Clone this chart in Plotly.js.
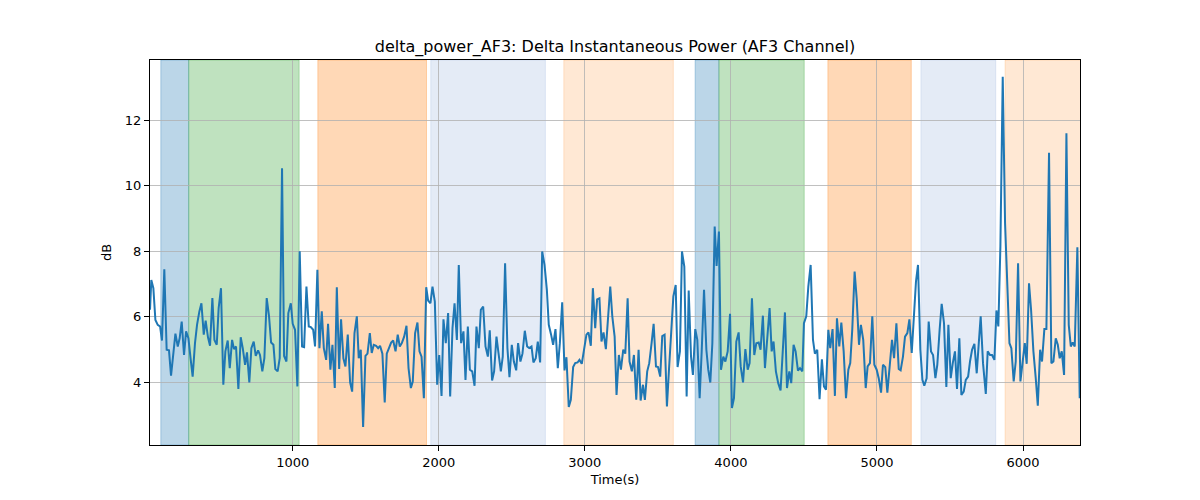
<!DOCTYPE html>
<html>
<head>
<meta charset="utf-8">
<script src="https://cdn.plot.ly/plotly-3.0.1.min.js"></script>
<style>
  html, body { margin: 0; padding: 0; background: #fff; }
  #plot { width: 1200px; height: 500px; }
</style>
</head>
<body>
<div id="plot"></div>
<script>
// time stamps (s) and delta power (dB)
const timeSec = [
  23, 32, 46, 60, 76, 92, 105, 121, 137, 153, 167, 183, 197, 213, 226, 240, 256, 270, 286, 302,
  315, 331, 345, 361, 375, 391, 404, 420, 434, 450, 464, 480, 493, 509, 525, 539, 555, 569, 585, 598,
  612, 628, 644, 658, 674, 687, 703, 717, 733, 747, 763, 776, 792, 806, 822, 838, 852, 868, 881, 897,
  911, 927, 941, 957, 970, 987, 1000, 1016, 1032, 1048,
  1064, 1078, 1094, 1110, 1124, 1140, 1153, 1169, 1183, 1199, 1213, 1229, 1242, 1258, 1272, 1288, 1302, 1318, 1331, 1347,
  1361, 1377, 1393, 1407, 1423, 1439, 1452, 1466, 1482, 1498, 1512, 1528, 1541, 1555, 1571, 1585, 1598, 1614, 1630, 1644,
  1660, 1674, 1688, 1704, 1719, 1733, 1747, 1763, 1779, 1793, 1809, 1822, 1838, 1854, 1868, 1882, 1898, 1914, 1927, 1943,
  1957, 1973, 1989, 2003, 2019, 2032, 2048, 2064, 2078, 2094, 2108, 2124, 2137,
  2153, 2169, 2183, 2199, 2213, 2229, 2245, 2258, 2274, 2288, 2304, 2320, 2336, 2349, 2365, 2379, 2395, 2409, 2425, 2438,
  2454, 2470, 2484, 2500, 2514, 2530, 2543, 2559, 2573, 2589, 2605, 2619, 2635, 2648, 2664, 2678, 2694, 2708, 2724, 2740,
  2753, 2769, 2783, 2799, 2815, 2829, 2845, 2861, 2874, 2890, 2904, 2920, 2934, 2950, 2963, 2979, 2995, 3011, 3025, 3041,
  3055, 3071, 3084, 3100, 3114, 3128, 3144,
  3174, 3188, 3204, 3217, 3233, 3247, 3263, 3277, 3293, 3306, 3322, 3336, 3352, 3368, 3382, 3398, 3411, 3427, 3441, 3457,
  3471, 3487, 3501, 3516, 3530, 3546, 3562, 3576, 3590, 3606, 3622, 3635, 3651, 3665, 3681, 3697, 3711, 3727, 3740, 3756,
  3770, 3786, 3800, 3816, 3832, 3845, 3859, 3873, 3889, 3902, 3918, 3932, 3948, 3962, 3978, 3994, 4007, 4021, 4037, 4053,
  4067, 4083, 4099, 4115, 4128, 4144,
  4160, 4174, 4190, 4203, 4219, 4233, 4249, 4265, 4279, 4292, 4308, 4324, 4340, 4354, 4370, 4384, 4400, 4413, 4429, 4443,
  4459, 4473, 4489, 4500, 4516, 4530, 4546, 4562, 4575, 4591, 4607, 4623, 4637, 4651, 4667, 4680, 4696, 4712, 4726, 4742,
  4756, 4772, 4788, 4804, 4817, 4831, 4847, 4861, 4877, 4890, 4906, 4923, 4936, 4952, 4968, 4982, 4998, 5012, 5028, 5041,
  5057, 5071, 5087, 5103, 5117, 5133, 5149, 5162, 5178, 5192, 5208, 5222, 5238, 5253, 5267, 5281,
  5297, 5311, 5324, 5340, 5354, 5370, 5384, 5400, 5413, 5429, 5443, 5459, 5475, 5489, 5505, 5519, 5534, 5548, 5564, 5578,
  5594, 5608, 5624, 5637, 5651, 5667, 5683, 5697, 5710, 5726, 5745, 5758, 5774, 5788, 5804, 5818, 5831, 5845, 5861, 5877,
  5891, 5907, 5920, 5936, 5950, 5966, 5982, 5996, 6012, 6025, 6041, 6055, 6071, 6087, 6101, 6117, 6130, 6146, 6160, 6178,
  6194, 6208, 6224, 6238, 6251, 6265, 6281, 6297, 6313, 6327, 6340, 6354, 6372, 6388
];

const deltaPower = [
  6.21, 7.12, 6.87, 5.90, 5.75, 5.70, 5.27, 7.45, 4.99, 4.97, 4.20, 4.89, 5.48, 5.09, 5.34, 5.85, 4.83, 5.55, 5.34, 4.68,
  4.17, 5.19, 5.75, 6.16, 6.41, 5.45, 5.88, 5.37, 5.11, 6.57, 5.29, 5.14, 6.26, 6.87, 3.92, 4.94, 5.27, 4.43, 5.29, 5.01,
  5.09, 3.79, 5.37, 5.04, 4.53, 4.91, 3.99, 5.04, 5.24, 4.80, 4.97, 4.83, 4.33, 4.73, 6.57, 6.01, 5.21, 5.14, 4.40, 4.33,
  4.73, 10.53, 4.80, 4.63, 6.11, 6.41, 5.78, 5.60, 3.87, 8.00,
  5.09, 5.07, 6.92, 5.70, 5.68, 5.60, 5.09, 7.43, 5.04, 6.16, 5.04, 4.68, 5.78, 4.38, 5.14, 3.82, 6.90, 4.40, 5.92, 4.73,
  4.48, 5.45, 3.99, 3.71, 5.50, 6.01, 4.73, 4.99, 2.63, 4.80, 4.87, 5.50, 4.89, 5.14, 5.11, 5.04, 5.11, 4.87, 3.38, 4.87,
  5.09, 5.21, 5.27, 4.94, 5.45, 5.09, 5.19, 5.39, 5.72, 4.43, 3.82, 4.02, 5.50, 5.82, 4.94, 4.78, 3.51, 6.90, 6.49, 6.41,
  6.92, 6.46, 3.92, 4.83, 3.58, 5.92, 5.19, 6.11, 3.56, 5.65, 6.41, 5.29, 7.58,
  5.19, 5.55, 4.07, 5.70, 4.38, 4.33, 3.89, 5.70, 5.04, 6.21, 6.31, 5.09, 4.78, 5.58, 4.05, 4.33, 5.39, 4.89, 4.33, 4.78,
  7.63, 5.04, 4.15, 5.14, 4.63, 4.36, 5.19, 4.63, 4.87, 5.57, 5.09, 5.04, 5.09, 4.60, 4.73, 5.24, 4.60, 7.99, 7.58, 6.82,
  5.75, 5.45, 5.14, 5.62, 4.43, 5.19, 6.44, 4.36, 4.76, 3.24, 3.46, 4.46, 4.58, 4.60, 4.68, 4.56, 5.09, 5.45, 5.52, 5.11,
  6.87, 5.65, 6.53, 6.56, 5.24, 5.52, 5.01,
  6.92, 6.01, 5.39, 3.61, 4.83, 4.38, 4.99, 4.87, 6.56, 4.63, 4.33, 4.83, 3.46, 4.99, 3.44, 3.92, 3.46, 4.33, 4.58, 5.19,
  5.78, 4.48, 4.46, 4.17, 5.41, 5.45, 3.26, 4.38, 5.39, 6.62, 6.97, 4.46, 4.94, 7.99, 7.53, 3.56, 6.80, 4.78, 4.22, 5.62,
  5.29, 3.51, 4.94, 6.82, 4.99, 4.38, 3.99, 5.19, 8.75, 7.55, 8.60, 4.38, 4.78, 4.63, 4.94, 6.09, 3.21, 3.51, 5.24, 5.52,
  4.48, 3.99, 5.01, 4.38, 4.58, 6.56,
  4.83, 5.19, 5.21, 4.99, 6.03, 4.43, 5.34, 6.26, 4.94, 5.24, 4.33, 3.97, 3.75, 4.91, 6.13, 3.82, 4.33, 3.97, 5.14, 4.94,
  4.35, 4.43, 4.33, 5.80, 6.01, 6.92, 7.58, 5.29, 4.87, 4.99, 3.48, 4.70, 3.87, 3.77, 5.60, 5.04, 5.62, 3.58, 5.95, 5.09,
  5.82, 4.94, 3.51, 4.38, 4.58, 5.62, 7.38, 6.56, 5.14, 5.75, 5.29, 3.82, 4.48, 4.58, 6.01, 4.53, 4.38, 4.12, 3.68, 4.53,
  4.46, 3.68, 4.53, 5.29, 4.73, 5.80, 4.40, 4.36, 4.78, 5.39, 5.50, 5.92, 4.89, 6.21, 7.07, 7.58,
  4.99, 4.07, 3.89, 4.12, 5.85, 4.94, 4.83, 4.12, 4.53, 5.60, 6.39, 5.80, 3.85, 5.75, 4.12, 4.58, 4.94, 3.79, 5.34, 3.61,
  3.71, 4.07, 4.17, 4.63, 4.99, 5.17, 4.27, 5.19, 6.01, 4.58, 3.64, 4.94, 4.83, 4.83, 4.68, 6.19, 5.70, 8.14, 13.33, 8.85,
  6.92, 5.19, 5.04, 4.02, 4.63, 7.63, 4.02, 4.58, 5.19, 4.56, 7.02, 6.21, 4.94, 4.12, 3.28, 4.99, 4.63, 5.62, 5.62, 11.01,
  4.58, 4.63, 5.34, 5.14, 4.73, 4.94, 4.22, 11.60, 5.75, 5.09, 5.21, 5.09, 8.12, 3.51
];

// shaded segments
const spanStart = [97, 288, 1172, 1945, 2856, 3755, 3918, 4664, 5301, 5877];
const spanEnd = [288, 1044, 1916, 2730, 3606, 3918, 4502, 5235, 5813, 6400];
const spanColor = [
  'rgba(31,119,180,0.3)', 'rgba(44,160,44,0.3)', 'rgba(255,127,14,0.3)',
  'rgba(165,188,225,0.3)', 'rgba(255,127,14,0.18)',
  'rgba(31,119,180,0.3)', 'rgba(44,160,44,0.3)', 'rgba(255,127,14,0.3)',
  'rgba(165,188,225,0.3)', 'rgba(255,127,14,0.18)'
];

const xTicks = [1000, 2000, 3000, 4000, 5000, 6000];
const yTicks = [4, 6, 8, 10, 12];

const shapes = spanStart.map((x0, i) => ({
  type: 'rect',
  xref: 'x',
  yref: 'paper',
  x0,
  x1: spanEnd[i],
  y0: 0,
  y1: 1,
  fillcolor: spanColor[i],
  line: { width: 1, color: spanColor[i] },
  layer: 'below',
}));

const trace = {
  x: timeSec,
  y: deltaPower,
  type: 'scatter',
  mode: 'lines',
  line: { color: '#1f77b4', width: 2 },
  hoverinfo: 'x+y',
};

const axisCommon = {
  showgrid: true,
  gridcolor: '#b0b0b0',
  gridwidth: 0.8,
  zeroline: false,
  showline: true,
  mirror: true,
  linecolor: '#000',
  linewidth: 1,
  ticks: 'outside',
  ticklen: 5,
  tickwidth: 1,
  tickcolor: '#000',
  tickfont: { family: 'DejaVu Sans', size: 13, color: '#000' },
};

const layout = {
  width: 1200,
  height: 500,
  margin: { l: 150, r: 120, t: 60, b: 55 },
  paper_bgcolor: '#fff',
  plot_bgcolor: '#fff',
  showlegend: false,
  title: {
    text: 'delta_power_AF3: Delta Instantaneous Power (AF3 Channel)',
    font: { family: 'DejaVu Sans', size: 16, color: '#000' },
    x: 0.5125,
    xanchor: 'center',
    y: 0.908,
    yanchor: 'middle',
  },
  xaxis: Object.assign({}, axisCommon, {
    range: [23, 6390],
    tickvals: xTicks,
    title: { text: 'Time(s)', font: { family: 'DejaVu Sans', size: 13, color: '#000' }, standoff: 6 },
  }),
  yaxis: Object.assign({}, axisCommon, {
    range: [2.08, 13.84],
    tickvals: yTicks,
    title: { text: 'dB', font: { family: 'DejaVu Sans', size: 13, color: '#000' }, standoff: 10 },
  }),
  shapes,
};

Plotly.newPlot('plot', [trace], layout, { displayModeBar: false, staticPlot: true });
</script>
</body>
</html>
